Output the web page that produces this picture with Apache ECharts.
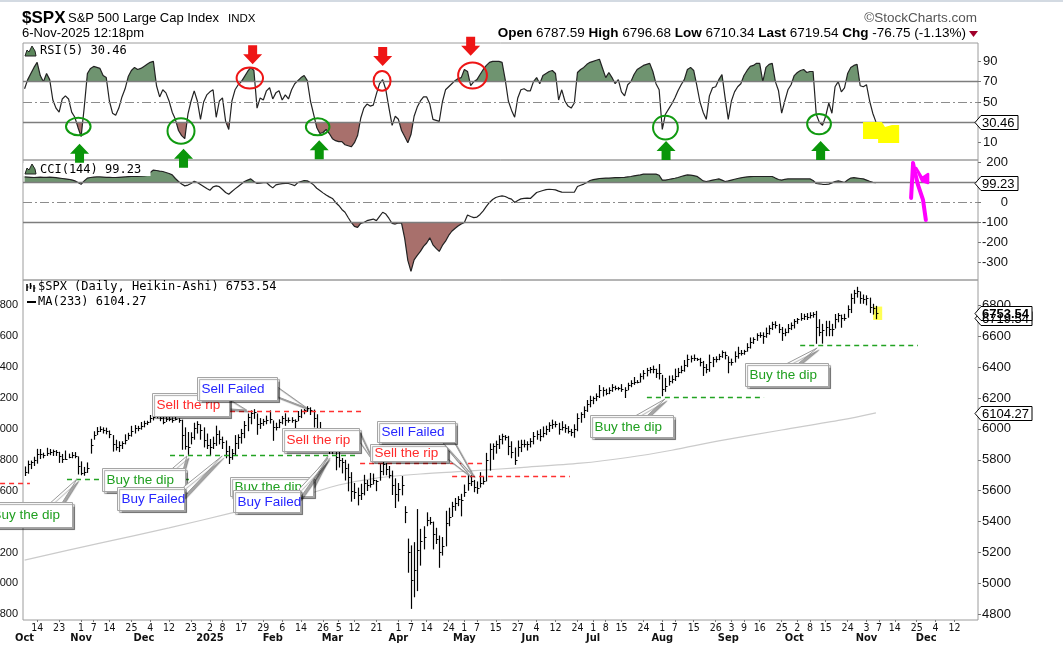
<!DOCTYPE html>
<html>
<head>
<meta charset="utf-8">
<title>$SPX Heikin-Ashi, RSI(5), CCI(144)</title>
<script src="https://cdn.jsdelivr.net/npm/echarts@6/dist/echarts.min.js"></script>
<style>
  html, body { margin: 0; padding: 0; background: #fff; }
  #main { width: 1063px; height: 647px; }
</style>
</head>
<body>
<div id="main"></div>
<script>
// ---- calendar: weekdays between these dates, minus market closures ----
var firstDay = '2024-10-08';
var lastDay = '2025-12-23';
var holidays = ['2024-11-28', '2024-12-25', '2025-01-01', '2025-01-09', '2025-01-20', '2025-02-17',
  '2025-04-18', '2025-05-26', '2025-06-19', '2025-07-04', '2025-09-01', '2025-11-27'];

// dates that get a day number under the price panel
var dayTicks = ['2024-10-14', '2024-10-23', '2024-11-01', '2024-11-07', '2024-11-14', '2024-11-25',
  '2024-12-04', '2024-12-12', '2024-12-23', '2025-01-02', '2025-01-08', '2025-01-17', '2025-01-29',
  '2025-02-06', '2025-02-14', '2025-02-26', '2025-03-05', '2025-03-12', '2025-03-21', '2025-04-01',
  '2025-04-07', '2025-04-14', '2025-04-24', '2025-05-01', '2025-05-07', '2025-05-15', '2025-05-27',
  '2025-06-04', '2025-06-12', '2025-06-24', '2025-07-01', '2025-07-08', '2025-07-15', '2025-07-24',
  '2025-08-01', '2025-08-07', '2025-08-15', '2025-08-26', '2025-09-03', '2025-09-09', '2025-09-16',
  '2025-09-25', '2025-10-02', '2025-10-08', '2025-10-15', '2025-10-24', '2025-11-03', '2025-11-07',
  '2025-11-14', '2025-11-25', '2025-12-04', '2025-12-12'];
var monthNames = {'01': '2025', '02': 'Feb', '03': 'Mar', '04': 'Apr', '05': 'May', '06': 'Jun',
  '07': 'Jul', '08': 'Aug', '09': 'Sep', '10': 'Oct', '11': 'Nov', '12': 'Dec'};

var rsiTicks = [10, 30, 50, 70, 90];
var cciTicks = [200, 100, 0, -100, -200, -300];
var priceTicks = [4800, 5000, 5200, 5400, 5600, 5800, 6000, 6200, 6400, 6600, 6800];

// ---- Heikin-Ashi bars, one per session (Oct 8 2024 .. Nov 6 2025) ----
var haClose = [
  5724,5772,5786,5798,5837,5837,5829,5842,5853,5858,5852,5824,5803,5808,5816,5828,5823,5759,
  5717,5720,5747,5898,5960,5985,5998,5990,5985,5965,5900,5880,5895,5910,5930,5960,5985,6005,6008,6020,
  6040,6047,6070,6080,6085,6070,6045,6065,6065,6055,6065,6058,5960,5890,5880,5950,6005,6035,5995,5925,5895,
  5880,5910,5965,5935,5915,5860,5820,5845,5910,5945,5975,6025,6075,6100,6110,6030,6040,6050,6060,6065,
  6010,6015,6045,6070,6055,6055,6060,6050,6085,6115,6122,6135,6125,6070,6000,5965,5960,5910,5900,
  5900,5815,5800,5785,5750,5690,5600,5590,5570,5585,5650,5640,5645,5670,5660,5730,5772,5740,5700,5635,5580,
  5610,5640,5460,5200,5020,5088,5213,5272,5300,5410,5400,5320,5290,5200,5240,5390,5430,5500,5520,5545,5540,
  5590,5650,5665,5625,5620,5650,5660,5800,5870,5888,5900,5935,5955,5950,5890,5850,5800,5880,5900,5905,5905,
  5920,5955,5970,5955,5975,6000,6025,6030,6035,6000,6010,6005,5985,5980,6000,6070,6095,6120,6160,6190,
  6200,6210,6255,6250,6230,6250,6270,6265,6265,6260,6255,6285,6300,6305,6305,6340,6360,6380,6390,6385,6365,6360,
  6260,6280,6310,6320,6345,6370,6380,6415,6455,6460,6460,6450,6430,6400,6385,6430,6450,6455,6475,6495,6480,
  6430,6435,6475,6490,6490,6505,6530,6565,6585,6605,6610,6600,6620,6655,6680,6675,6645,6620,6630,6655,6670,
  6700,6712,6715,6730,6725,6735,6745,6660,6625,6640,6660,6650,6650,6710,6735,6715,6720,6775,6850,6880,6890,6850,6840,
  6845,6790,6785,6753.54
];
var haLow = [
  5695,5710,5740,5760,5775,5805,5810,5825,5830,5825,5825,5780,5780,5800,5810,5810,5810,5705,
  5700,5697,5715,5840,5930,5960,5980,5970,5965,5940,5853,5860,5850,5870,5900,5930,5950,5970,5985,5995,
  6010,6025,6040,6055,6070,6050,6030,6045,6050,6040,6055,6040,5865,5866,5832,5900,5930,5970,5930,5880,5870,
  5825,5870,5890,5900,5870,5810,5773,5800,5830,5870,5905,5940,5985,6030,6065,5962,6000,6020,6030,6035,
  5923,5990,6005,6030,6020,6040,6040,6003,6050,6070,6095,6110,6090,6009,5980,5908,5930,5860,5837,
  5837,5732,5750,5712,5666,5596,5529,5546,5505,5540,5570,5598,5620,5640,5597,5665,5700,5700,5680,5572,5488,
  5530,5570,5390,5069,4835,4910,4950,5115,5220,5370,5380,5220,5255,5101,5180,5240,5370,5430,5470,5500,5434,
  5560,5600,5630,5590,5580,5620,5640,5660,5730,5800,5840,5870,5900,5925,5830,5810,5767,5820,5850,5880,5860,
  5880,5900,5930,5920,5945,5960,5980,6000,6010,5963,5990,5975,5970,5953,5943,5985,6040,6070,6110,6140,
  6160,6180,6200,6210,6218,6225,6240,6250,6250,6240,6200,6250,6270,6285,6295,6300,6320,6340,6360,6360,6330,6320,
  6212,6240,6280,6295,6310,6335,6360,6370,6400,6430,6440,6440,6405,6343,6360,6370,6400,6430,6445,6460,6450,
  6360,6410,6430,6455,6475,6480,6500,6520,6550,6570,6590,6551,6590,6610,6640,6650,6620,6570,6600,6620,6640,
  6650,6680,6700,6705,6705,6715,6720,6551,6600,6552,6600,6600,6600,6650,6690,6655,6700,6720,6750,6810,6850,6810,6810,
  6800,6750,6740,6710.34
];
var haHigh = [
  5757,5795,5795,5820,5871,5870,5846,5878,5870,5866,5863,5852,5838,5860,5840,5850,5850,5822,
  5790,5754,5783,5936,5985,6012,6017,6010,6008,5990,5960,5930,5920,5920,5965,5975,6020,6025,6020,6045,
  6053,6053,6090,6090,6099,6088,6078,6090,6080,6075,6085,6070,6060,6010,5980,5978,6040,6050,6030,6010,5970,
  5935,5950,6021,5990,5950,5925,5890,5870,5960,5965,6000,6051,6100,6120,6128,6100,6070,6065,6086,6120,
  6055,6040,6062,6084,6101,6074,6076,6062,6116,6127,6129,6147,6140,6125,6095,6045,6005,5990,5960,
  5987,5900,5860,5812,5800,5775,5720,5650,5620,5645,5703,5670,5715,5711,5670,5775,5787,5780,5760,5730,5680,
  5650,5695,5500,5290,5246,5267,5481,5353,5370,5460,5430,5400,5360,5310,5300,5470,5490,5528,5553,5565,5580,
  5640,5700,5700,5670,5660,5720,5690,5845,5906,5906,5924,5959,5969,5960,5955,5920,5880,5925,5930,5930,5920,
  5940,5980,5990,5999,6016,6021,6043,6060,6050,6040,6050,6030,6018,6000,6030,6101,6108,6146,6187,6215,
  6210,6230,6284,6270,6260,6269,6290,6280,6272,6290,6270,6299,6315,6336,6316,6360,6381,6395,6401,6410,6390,6420,
  6350,6330,6345,6347,6390,6395,6409,6446,6481,6475,6482,6460,6460,6440,6420,6481,6466,6470,6486,6508,6500,
  6470,6455,6502,6532,6511,6512,6555,6592,6593,6619,6626,6625,6656,6671,6694,6697,6680,6660,6650,6679,6689,
  6711,6718,6750,6745,6750,6755,6756,6764,6710,6680,6700,6700,6680,6744,6750,6740,6745,6800,6876,6900,6920,6890,6870,
  6865,6850,6810,6796.68
];

// ---- RSI(5) ----
var rsi5 = [
  63,72,78,84,89,76,70,78,72,52, 44,40,53,56,53,40,35,25,16,45, 78,83,85,84,83,76,74,51,39,37,
  44,55,63,75,81,84,82,83,85,87, 89,90,66,55,62,59,51,40,33,22, 17,14,38,51,61,51,33,50,57,60,
  62,35,51,54,31,23,51,62,67,70, 75,80,84,81,44,54,52,61,64,53, 59,61,52,57,53,62,68,71,74,76,
  71,51,38,25,19,20,23,19,14,12, 11,11,8,7,6,10,17,34,44,48, 46,47,58,68,72,62,44,27,36,33,
  22,16,10,18,36,45,51,55,55,48, 33,32,31,50,62,65,68,71,73,74, 82,80,66,70,72,77,82,86,89,90,
  90,90,89,72,51,42,35,54,62,63, 61,61,70,74,68,76,78,80,81,78, 52,62,51,46,44,49,79,82,84,87,
  89,90,91,92,83,74,79,74,68,72, 60,56,67,70,77,82,84,86,87,88, 80,68,62,23,38,43,48,54,61,67,
  72,82,84,81,66,50,40,33,56,64, 65,72,77,54,33,51,60,65,68,76, 81,85,86,88,88,70,84,87,88,70,
  61,39,51,62,67,76,79,81,82,79, 80,80,38,30,27,36,49,39,65,70, 60,64,78,84,86,87,66,65,67,51,
  39,30.46
];

// ---- CCI(144) ----
var cci144 = [
  128,127,126,125,126,127,126,126,127,126, 124,122,120,118,116,113,108,100,91,108,
  122,125,127,128,128,127,126,126,125,125, 126,127,128,129,130,130,131,132,133,136,
  150,162,160,157,155,150,145,138,120,105, 92,83,87,95,106,100,90,80,70,61,
  78,83,79,65,50,41,55,68,80,92, 105,112,118,105,95,97,99,100,85,73,
  88,92,94,95,95,90,84,100,105,110, 108,100,88,71,60,48,37,28,20,0,
  -15,-35,-49,-75,-100,-120,-125,-105,-100,-91, -87,-83,-91,-70,-49,-58,-80,-105,-108,-103,
  -103,-180,-290,-345,-287,-265,-245,-220,-203,-177, -212,-230,-245,-215,-194,-165,-144,-130,-118,-108,
  -100,-63,-70,-76,-73,-60,-42,-20,0,15, 25,30,33,30,22,17,0,10,18,20,
  22,20,35,50,55,60,64,66,65,63, 57,52,51,51,51,51,80,86,92,100,
  110,114,117,120,121,122,122,123,124,124, 125,126,128,130,133,136,138,142,142,142,
  142,142,136,112,112,115,118,121,125,130, 134,138,137,134,131,120,108,105,108,112,
  115,118,112,105,108,112,116,120,123,126, 128,129,130,130,130,130,130,130,130,122,
  115,112,116,118,118,118,118,118,118,118, 118,110,95,93,91,90,92,98,105,108,
  104,100,112,122,124,122,120,118,112,106, 101,99.23
];

// ---- MA(233), read at a few sessions ----
var maIdx = [0, 24, 46, 66, 88, 100, 112, 126, 142, 158, 177, 192, 206, 221, 241, 260, 271];
var maVal = [5151, 5261, 5359, 5456, 5566, 5637, 5682, 5708, 5728, 5750, 5778, 5815, 5862, 5922, 5993, 6058, 6104.27];

// quote line
var quoteOpen = 6787.59, quoteHigh = 6796.68, quoteLow = 6710.34, quoteLast = 6719.54;
var quoteChg = -76.75, quoteChgPct = -1.13;

// ---- hand-drawn annotations, anchored in data space [session index, value] ----
var rsiCircles = [
  {at: [17.1, 26.0], rx: 12.3, ry: 8.8, color: '#109a10'},
  {at: [49.8, 21.5], rx: 13.5, ry: 12.7, color: '#109a10'},
  {at: [93.3, 25.6], rx: 11.8, ry: 8.5, color: '#109a10'},
  {at: [204.0, 24.9], rx: 12.4, ry: 11.9, color: '#109a10'},
  {at: [252.9, 28.3], rx: 11.9, ry: 10.2, color: '#109a10'},
  {at: [71.7, 73.5], rx: 13.2, ry: 10.5, color: '#ee1515'},
  {at: [113.8, 70.8], rx: 8.5, ry: 9.8, color: '#ee1515'},
  {at: [142.6, 76.0], rx: 14.4, ry: 13, color: '#ee1515'}
];
var rsiArrows = [
  {tip: [17.5, 9.0], up: true}, {tip: [50.6, 4.1], up: true}, {tip: [93.8, 12.4], up: true},
  {tip: [204.2, 11.7], up: true}, {tip: [253.4, 11.7], up: true},
  {tip: [72.6, 87.2], up: false}, {tip: [114.0, 85.4], up: false}, {tip: [142.0, 95.4], up: false}
];
var rsiHighlight = [[266.9, 30.4], [272.9, 30.4], [273.9, 25.4], [276.1, 27.4], [278.4, 27.4],
  [278.4, 9.7], [271.7, 9.7], [271.7, 13.6], [266.9, 13.6]];
var cciScribble = [[286.9, -87.7], [286.0, 12.4], [284.4, 87.5], [283.4, 152.5], [282.8, 197.5]];
var cciScribbleBarb = [[282.8, 187.5], [282.2, 22.4]];
var cciScribbleHook = [[283.8, 172.5], [285.7, 122.4], [287.6, 142.4], [287.6, 97.4], [285.7, 107.4]];

var priceLevels = [
  {from: -7.8, to: 1.7, value: 5648, color: '#ff3030'},
  {from: 13.5, to: 52.7, value: 5676, color: '#22a322'},
  {from: 46.3, to: 105.8, value: 5834, color: '#22a322'},
  {from: 65.4, to: 107.7, value: 6116, color: '#ff3030'},
  {from: 106.8, to: 146.6, value: 5777, color: '#ff3030'},
  {from: 136.1, to: 173.6, value: 5692, color: '#ff3030'},
  {from: 198.1, to: 235.4, value: 6205, color: '#22a322'},
  {from: 246.9, to: 284.4, value: 6543, color: '#22a322'}
];
var GREEN_TXT = '#1f9f1f', RED_TXT = '#ff2b2b', BLUE_TXT = '#2626ff';
var callouts = [
  {text: 'Buy the dip', color: GREEN_TXT, box: [-11.6, 5527], w: 84, h: 25, tip: [16.7, 5676], side: 'top', at: 0.8},
  {text: 'Sell the rip', color: RED_TXT, box: [40.5, 6231], w: 77, h: 23, tip: [70.7, 6122], side: 'right', at: 0.45},
  {text: 'Sell Failed', color: BLUE_TXT, box: [54.8, 6338], w: 80, h: 23, tip: [89.9, 6135], side: 'right', at: 0.6},
  {text: 'Buy the dip', color: GREEN_TXT, box: [24.6, 5745], w: 83, h: 23, tip: [51.7, 5825], side: 'top', at: 0.9},
  {text: 'Buy Failed', color: BLUE_TXT, box: [29.3, 5626], w: 67, h: 23, tip: [62.9, 5825], side: 'right', at: 0.2},
  {text: 'Buy the dip', color: GREEN_TXT, box: [65.4, 5691], w: 83, h: 19, tip: [96.6, 5825], side: 'right', at: 0.2},
  {text: 'Buy Failed', color: BLUE_TXT, box: [66.5, 5604], w: 67, h: 22, tip: [96.6, 5812], side: 'right', at: 0.15},
  {text: 'Sell the rip', color: RED_TXT, box: [81.8, 6004], w: 77, h: 23, tip: [110.9, 5792], side: 'right', at: 0.3},
  {text: 'Sell the rip', color: RED_TXT, box: [110.0, 5900], w: 77, h: 17, tip: [141.8, 5695], side: 'right', at: 0.5},
  {text: 'Sell Failed', color: BLUE_TXT, box: [112.1, 6051], w: 78, h: 21, tip: [142.8, 5695], side: 'bottom', at: 0.9},
  {text: 'Buy the dip', color: GREEN_TXT, box: [180.0, 6090], w: 83, h: 22, tip: [203.9, 6194], side: 'top', at: 0.6},
  {text: 'Buy the dip', color: GREEN_TXT, box: [229.3, 6425], w: 83, h: 23, tip: [252.3, 6524], side: 'top', at: 0.55}
];

// ---------------------------------------------------------------
var SANS = '"Liberation Sans", Arial, sans-serif';
var NARROW = '"Liberation Sans Narrow", "DejaVu Sans Condensed", "Liberation Sans", sans-serif';
var MONO = '"DejaVu Sans Mono", monospace';
var G_FILL = '#6f9470', R_FILL = '#a8706c';

function buildDates() {
  var out = [];
  var d = new Date(firstDay + 'T12:00:00Z');
  var end = new Date(lastDay + 'T12:00:00Z');
  while (d <= end) {
    var s = d.toISOString().slice(0, 10);
    var wd = d.getUTCDay();
    if (wd > 0 && wd < 6 && holidays.indexOf(s) < 0) out.push(s);
    d.setUTCDate(d.getUTCDate() + 1);
  }
  return out;
}
var dates = buildDates();
var monthStart = {};
dates.forEach(function (s, i) {
  if (i === 0 || s.slice(5, 7) !== dates[i - 1].slice(5, 7)) monthStart[i] = true;
});
function isDayTick(i) { return dayTicks.indexOf(dates[i]) >= 0; }
function plain(v) { return String(v); }

var bars = haClose.map(function (c, i) { return [i, haLow[i], haHigh[i], c]; });
var maPoints = maIdx.map(function (k, j) { return [k, maVal[j]]; });

function refLines(solid, dashed) {
  var data = solid.map(function (v) {
    return {yAxis: v, lineStyle: {color: '#7d7d7d', width: 1.3, type: 'solid'}};
  }).concat(dashed.map(function (v) {
    return {yAxis: v, lineStyle: {color: '#8c8c8c', width: 1, type: [9, 3, 2, 3]}};
  }));
  return {silent: true, symbol: ['none', 'none'], label: {show: false}, animation: false, data: data};
}

function renderBar(params, api) {
  var i = api.value(0);
  var lo = api.coord([i, api.value(1)]);
  var hi = api.coord([i, api.value(2)]);
  var cl = api.coord([i, api.value(3)]);
  var x = Math.round(lo[0]) + 0.5;
  var yc = Math.round(cl[1]) + 0.5;
  return {type: 'group', children: [
    {type: 'line', shape: {x1: x, y1: lo[1], x2: x, y2: hi[1]}, style: {stroke: '#000', lineWidth: 1.2}},
    {type: 'line', shape: {x1: x, y1: yc, x2: x + 2, y2: yc}, style: {stroke: '#000', lineWidth: 1}}
  ]};
}

function hiddenX(grid) {
  return {gridIndex: grid, type: 'category', data: dates, boundaryGap: true,
    axisLine: {show: false}, axisTick: {show: false}, axisLabel: {show: false}};
}
function rightY(grid, min, max, ticks, margin, align) {
  return {gridIndex: grid, type: 'value', position: 'right', min: min, max: max,
    splitLine: {show: false}, axisLine: {show: false},
    axisTick: {show: true, customValues: ticks, length: 3, lineStyle: {color: '#777'}},
    axisLabel: {customValues: ticks, margin: margin, align: align, fontSize: 13, fontFamily: SANS, color: '#111',
      formatter: plain}};
}
function panel(top, height) {
  return {left: 23, right: 85, top: top, height: height, show: true, borderColor: '#9c9c9c', borderWidth: 1,
    containLabel: false, outerBoundsMode: 'none'};
}

var chart = echarts.init(document.getElementById('main'));

var option = {
  animation: false,
  backgroundColor: '#fff',
  grid: [panel(43, 117), panel(160, 120), panel(280, 340)],
  xAxis: [
    hiddenX(0),
    hiddenX(1),
    {gridIndex: 2, type: 'category', data: dates, boundaryGap: true, axisLine: {show: false},
      axisTick: {show: true, interval: function (i) { return isDayTick(i); }, alignWithLabel: true, length: 2,
        lineStyle: {color: '#777'}},
      axisLabel: {interval: function (i) { return isDayTick(i); }, margin: 3, fontSize: 10.5, fontFamily: NARROW,
        color: '#111', formatter: function (v) { return String(+v.slice(8)); }}},
    {gridIndex: 2, type: 'category', data: dates, boundaryGap: true, position: 'bottom', offset: 10,
      axisLine: {show: false}, axisTick: {show: false},
      axisLabel: {interval: function (i) { return !!monthStart[i]; }, margin: 3, fontSize: 11, fontWeight: 'bold',
        fontFamily: NARROW, color: '#111', formatter: function (v) { return monthNames[v.slice(5, 7)]; }}}
  ],
  yAxis: [
    rightY(0, -7, 108, rsiTicks, 5, 'left'),
    rightY(1, -388, 212.5, cciTicks, 30, 'right'),
    rightY(2, 4763, 6964, priceTicks, 4, 'left'),
    {gridIndex: 2, type: 'value', position: 'left', min: 4763, max: 6964, splitLine: {show: false},
      axisLine: {show: false}, axisTick: {show: false},
      axisLabel: {customValues: priceTicks, margin: 5, fontSize: 11, fontFamily: SANS, color: '#111', formatter: plain}}
  ],
  visualMap: [
    {type: 'piecewise', show: false, seriesIndex: 0, pieces: [
      {gt: 70, color: G_FILL}, {gte: 30, lte: 70, color: 'rgba(255,255,255,0)'}, {lt: 30, color: R_FILL}]},
    {type: 'piecewise', show: false, seriesIndex: 2, pieces: [
      {gt: 100, color: G_FILL}, {gte: -100, lte: 100, color: 'rgba(255,255,255,0)'}, {lt: -100, color: R_FILL}]}
  ],
  series: [
    {type: 'line', xAxisIndex: 0, yAxisIndex: 0, data: rsi5, symbol: 'none', silent: true, z: 1,
      lineStyle: {width: 0}, areaStyle: {origin: 50, opacity: 1}},
    {type: 'line', xAxisIndex: 0, yAxisIndex: 0, data: rsi5, symbol: 'none', silent: true, z: 3,
      lineStyle: {color: '#222', width: 1.2}, itemStyle: {color: '#222'}, markLine: refLines([70, 30], [50])},
    {type: 'line', xAxisIndex: 1, yAxisIndex: 1, data: cci144, symbol: 'none', silent: true, z: 1,
      lineStyle: {width: 0}, areaStyle: {origin: 0, opacity: 1}},
    {type: 'line', xAxisIndex: 1, yAxisIndex: 1, data: cci144, symbol: 'none', silent: true, z: 3,
      lineStyle: {color: '#222', width: 1.2}, itemStyle: {color: '#222'}, markLine: refLines([100, -100], [0])},
    {type: 'custom', xAxisIndex: 2, yAxisIndex: 2, data: bars, renderItem: renderBar, silent: true, z: 3,
      encode: {x: 0, y: [1, 2, 3]}},
    {type: 'line', xAxisIndex: 2, yAxisIndex: 2, data: maPoints, symbol: 'none', silent: true, z: 2, smooth: 0.3,
      lineStyle: {color: '#cbcbcb', width: 1.2}, itemStyle: {color: '#cbcbcb'}}
  ]
};
chart.setOption(option);

// ---- overlays positioned through the chart's own scales ----
var RSI = {seriesIndex: 1}, CCI = {seriesIndex: 3}, PRICE = {seriesIndex: 4};
function toPx(f, i, v) {
  var a = chart.convertToPixel(f, [0, v]);
  var b = chart.convertToPixel(f, [1, v]);
  return [a[0] + i * (b[0] - a[0]), a[1]];
}
function txt(x, y, text, font, fill, align, z) {
  return {type: 'text', x: x, y: y, z: z || 60,
    style: {text: text, font: font, fill: fill || '#000', align: align || 'left', verticalAlign: 'middle'}};
}
function tag(v, f, text, bold, w) {
  var y = Math.round(toPx(f, 0, v)[1]) + 0.5, x = 975;
  return [
    {type: 'polygon', z: 70, shape: {points: [[x, y], [x + 6, y - 7], [x + w, y - 7], [x + w, y + 7], [x + 6, y + 7]]},
      style: {fill: '#fff', stroke: '#000', lineWidth: 1}},
    txt(x + 7, y + 0.5, text, (bold ? 'bold ' : '') + '13px ' + SANS, '#000', 'left', 71)
  ];
}

var g = [];
// header
g.push({type: 'rect', z: 60, shape: {x: 0, y: 0, width: 1063, height: 2}, style: {fill: '#d3dae2'}});
g.push(txt(22, 18, '$SPX', 'bold 17px ' + SANS));
g.push(txt(68, 18.5, 'S&P 500 Large Cap Index', '13px ' + SANS));
g.push(txt(228, 19, 'INDX', '11.5px ' + SANS));
g.push(txt(22, 33, '6-Nov-2025 12:18pm', '13px ' + SANS));
g.push(txt(977, 18, '\u00a9StockCharts.com', '13.5px ' + SANS, '#555', 'right'));
g.push({type: 'text', x: 966, y: 33, z: 60, style: {
  text: '{b|Open} ' + quoteOpen.toFixed(2) + ' {b|High} ' + quoteHigh.toFixed(2) + ' {b|Low} ' + quoteLow.toFixed(2) +
    ' {b|Last} ' + quoteLast.toFixed(2) + ' {b|Chg} ' + quoteChg.toFixed(2) + ' (' + quoteChgPct.toFixed(2) + '%)',
  font: '13.5px ' + SANS, fill: '#000', align: 'right', verticalAlign: 'middle',
  rich: {b: {fontWeight: 'bold', fontSize: 13.5, fontFamily: SANS}}}});
g.push({type: 'polygon', z: 60, shape: {points: [[969, 31], [978, 31], [973.5, 37]]}, style: {fill: '#a0002a'}});

// panel legends
function mountain(x, y) {
  return {type: 'polygon', z: 60, shape: {points: [[x, y + 10], [x + 2, y + 4], [x + 4, y + 6], [x + 7, y], [x + 10, y + 5], [x + 11, y + 10]]},
    style: {fill: '#5c875c', stroke: '#222', lineWidth: 1}};
}
g.push(mountain(25, 46));
g.push(txt(40, 51, 'RSI(5) ' + rsi5[rsi5.length - 1].toFixed(2), '12px ' + MONO));
g.push({type: 'rect', z: 59, shape: {x: 23.5, y: 163, width: 127, height: 13}, style: {fill: '#fff'}});
g.push(mountain(25, 164));
g.push(txt(40, 169.5, 'CCI(144) ' + cci144[cci144.length - 1].toFixed(2), '12px ' + MONO));
[[27, 284, 291], [30.5, 283, 289], [34, 285, 292]].forEach(function (b) {
  g.push({type: 'line', z: 60, shape: {x1: b[0], y1: b[1], x2: b[0], y2: b[2]}, style: {stroke: '#000', lineWidth: 1.5}});
  g.push({type: 'line', z: 60, shape: {x1: b[0], y1: b[1] + 3, x2: b[0] + 1.5, y2: b[1] + 3}, style: {stroke: '#000', lineWidth: 1}});
});
g.push(txt(38, 287, '$SPX (Daily, Heikin-Ashi) ' + haClose[haClose.length - 1].toFixed(2), '12px ' + MONO));
g.push({type: 'line', z: 60, shape: {x1: 27, y1: 302, x2: 36, y2: 302}, style: {stroke: '#000', lineWidth: 2}});
g.push(txt(38, 302, 'MA(233) ' + maVal[maVal.length - 1].toFixed(2), '12px ' + MONO));

// RSI circles, arrows, highlight
rsiCircles.forEach(function (c) {
  var p = toPx(RSI, c.at[0], c.at[1]);
  g.push({type: 'ellipse', z: 55, shape: {cx: p[0], cy: p[1], rx: c.rx, ry: c.ry},
    style: {fill: 'none', stroke: c.color, lineWidth: 2}});
});
rsiArrows.forEach(function (a) {
  var p = toPx(RSI, a.tip[0], a.tip[1]);
  var x = p[0], y = p[1], s = a.up ? -1 : 1;
  var y1 = y - s * 10, y2 = y - s * 19;
  g.push({type: 'polygon', z: 56, shape: {points: [[x, y], [x + 9.5, y1], [x + 4.5, y1], [x + 4.5, y2],
    [x - 4.5, y2], [x - 4.5, y1], [x - 9.5, y1]]}, style: {fill: a.up ? '#0a960a' : '#ee1515'}});
});
g.push({type: 'polygon', z: 55, shape: {points: rsiHighlight.map(function (q) { return toPx(RSI, q[0], q[1]); })},
  style: {fill: '#ffff00'}});

// CCI scribble
[cciScribble, cciScribbleBarb].forEach(function (line) {
  g.push({type: 'polyline', z: 56, shape: {points: line.map(function (q) { return toPx(CCI, q[0], q[1]); })},
    style: {stroke: '#ff00ff', lineWidth: 4, lineCap: 'round', lineJoin: 'round', fill: 'none'}});
});
g.push({type: 'polygon', z: 56, shape: {points: cciScribbleHook.map(function (q) { return toPx(CCI, q[0], q[1]); })},
  style: {fill: '#ff00ff', stroke: '#ff00ff', lineWidth: 2.5, lineJoin: 'round'}});

// last bar highlight
(function () {
  var a = toPx(PRICE, 270.1, 6792), b = toPx(PRICE, 273, 6705);
  g.push({type: 'rect', z: 1, shape: {x: a[0], y: a[1], width: b[0] - a[0], height: b[1] - a[1]}, style: {fill: '#ffff55'}});
})();

// dashed support / resistance levels
priceLevels.forEach(function (l) {
  var a = toPx(PRICE, l.from, l.value), b = toPx(PRICE, l.to, l.value);
  var y = Math.round(a[1]) + 0.5;
  g.push({type: 'line', z: 40, shape: {x1: a[0], y1: y, x2: b[0], y2: y},
    style: {stroke: l.color, lineWidth: 1.3, lineDash: [5, 4]}});
});

// callouts
callouts.forEach(function (c, k) {
  var tl = toPx(PRICE, c.box[0], c.box[1]);
  var x = Math.round(tl[0]) + 0.5, y = Math.round(tl[1]) + 0.5;
  var tip = toPx(PRICE, c.tip[0], c.tip[1]);
  var b1, b2;
  if (c.side === 'top') {
    var bx = x + c.w * c.at; b1 = [bx - 6, y + 1]; b2 = [bx + 6, y + 1];
  } else if (c.side === 'bottom') {
    var bx2 = x + c.w * c.at; b1 = [bx2 - 6, y + c.h - 1]; b2 = [bx2 + 6, y + c.h - 1];
  } else {
    var by = y + c.h * c.at; b1 = [x + c.w - 1, by - 5]; b2 = [x + c.w - 1, by + 5];
  }
  var shadow = {shadowColor: 'rgba(0,0,0,0.35)', shadowOffsetX: 2, shadowOffsetY: 2, shadowBlur: 1};
  g.push({type: 'polygon', z: 50, z2: k * 3, shape: {points: [b1, tip, b2]},
    style: Object.assign({fill: '#fff', stroke: '#9a9a9a', lineWidth: 1}, shadow)});
  g.push({type: 'rect', z: 50, z2: k * 3 + 1, shape: {x: x, y: y, width: c.w, height: c.h},
    style: Object.assign({fill: '#fff', stroke: '#a5a5a5', lineWidth: 1}, shadow)});
  g.push({type: 'text', z: 50, z2: k * 3 + 2, x: x + 4, y: y + c.h / 2 + 0.5,
    style: {text: c.text, font: '13.5px ' + SANS, fill: c.color, verticalAlign: 'middle'}});
});

// value tags on the right axis
g = g.concat(tag(quoteLast, PRICE, quoteLast.toFixed(2), false, 57));
g = g.concat(tag(haClose[haClose.length - 1], PRICE, haClose[haClose.length - 1].toFixed(2), true, 57));
g = g.concat(tag(maVal[maVal.length - 1], PRICE, maVal[maVal.length - 1].toFixed(2), false, 57));
g = g.concat(tag(rsi5[rsi5.length - 1], RSI, rsi5[rsi5.length - 1].toFixed(2), false, 43));
g = g.concat(tag(cci144[cci144.length - 1], CCI, cci144[cci144.length - 1].toFixed(2), false, 43));

chart.setOption({graphic: {elements: g}});
</script>
</body>
</html>
